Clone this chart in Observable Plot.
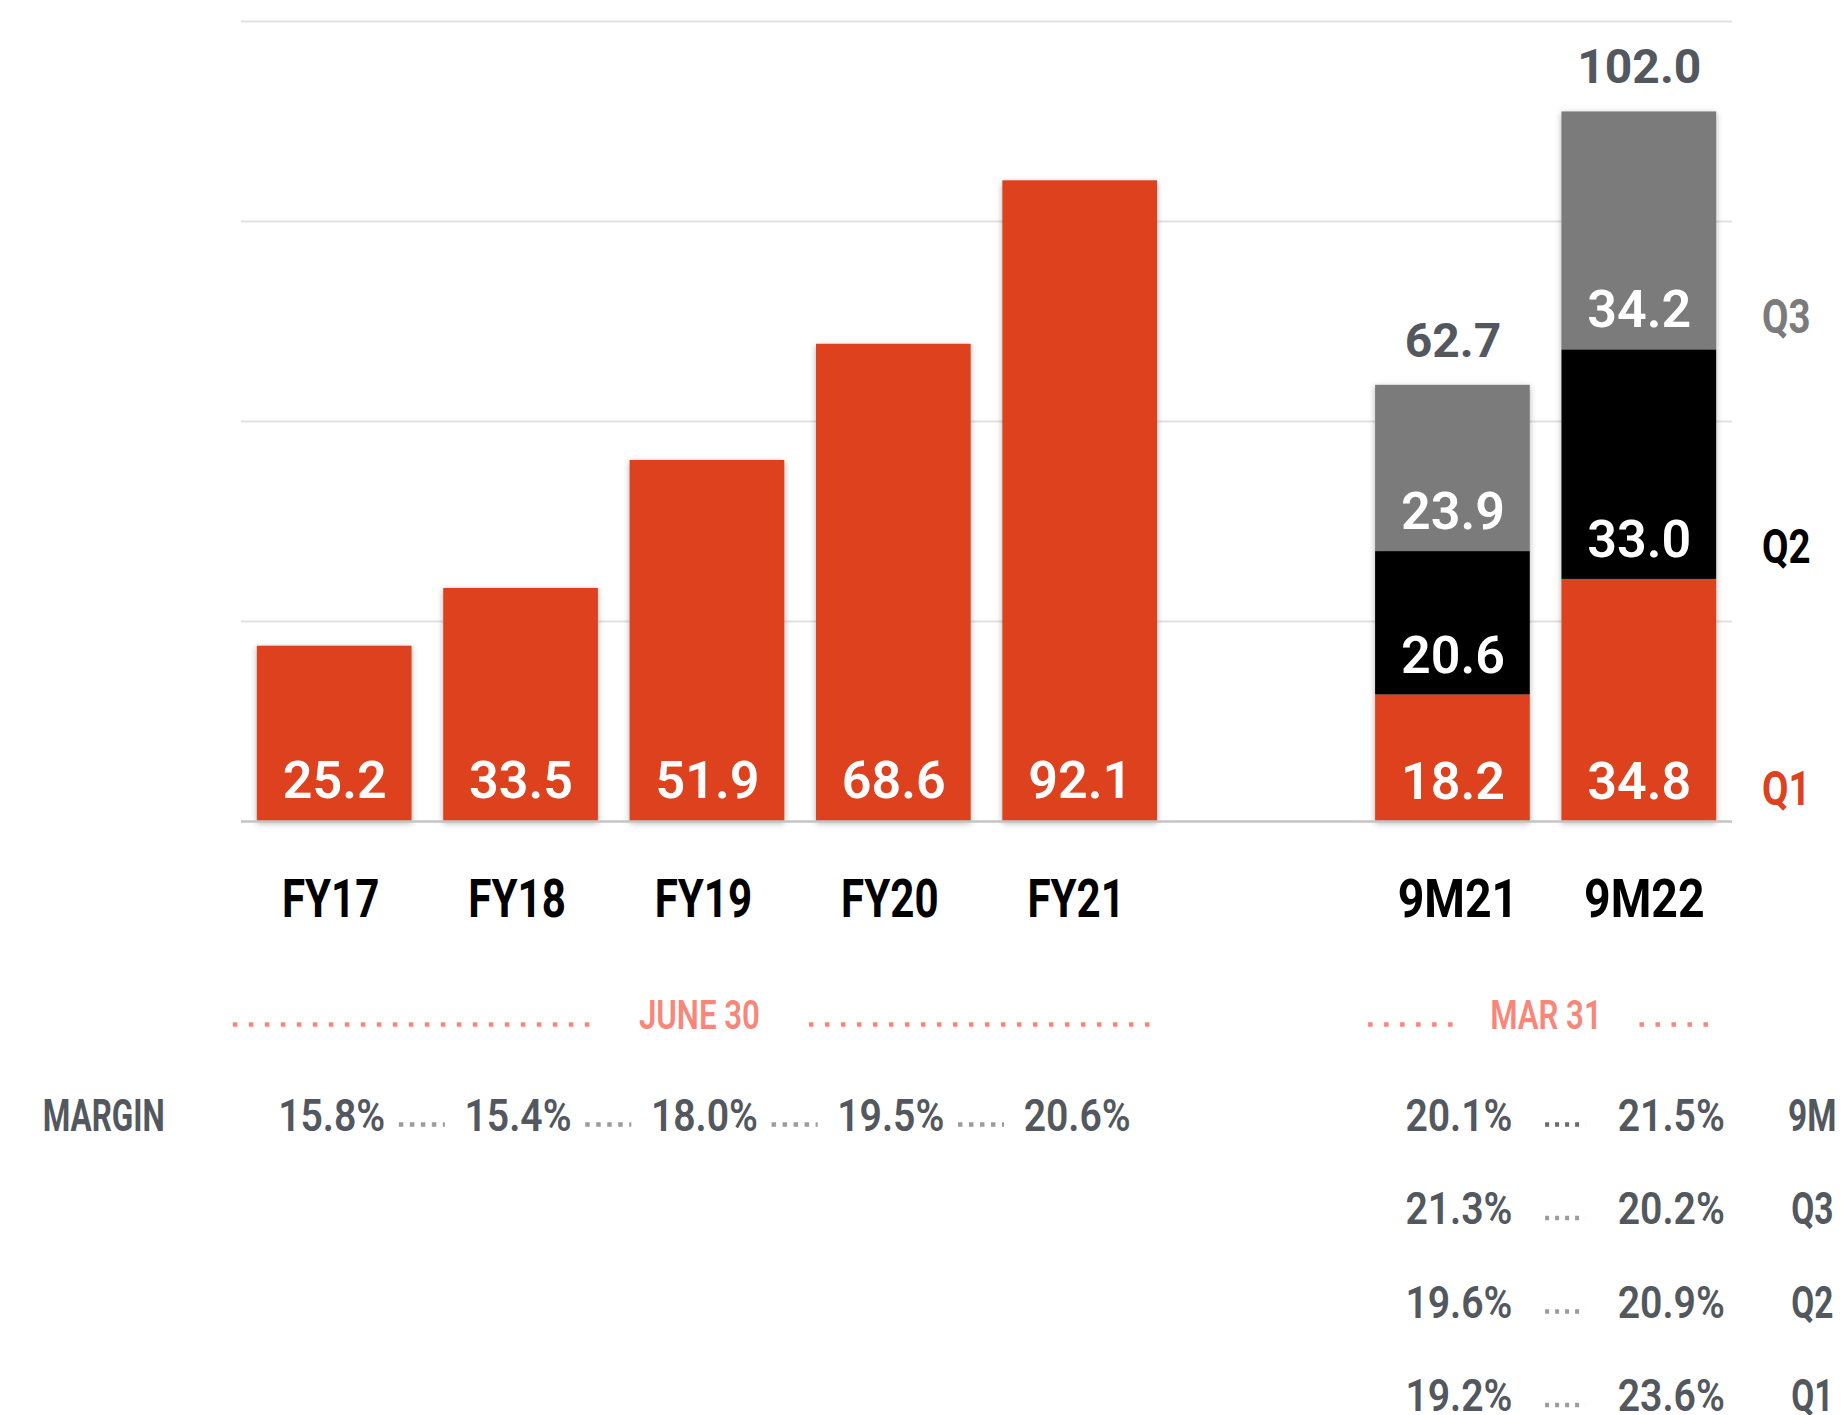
<!DOCTYPE html>
<html>
<head>
<meta charset="utf-8">
<script src="https://cdn.jsdelivr.net/npm/d3@7"></script>
<script src="https://cdn.jsdelivr.net/npm/@observablehq/plot@0.6"></script>
<style>
  html, body { margin: 0; padding: 0; background: #ffffff; }
  #chart { width: 1844px; height: 1415px; overflow: hidden; }
</style>
</head>
<body>
<div id="chart"></div>
<script>
// ---------- data ----------
const fyCategories = ["FY17", "FY18", "FY19", "FY20", "FY21"];
const fyRevenue = [25.2, 33.5, 51.9, 68.6, 92.1];
const fyMargins = [15.8, 15.4, 18.0, 19.5, 20.6];

const ninemCategories = ["9M21", "9M22"];
const quarters = ["Q1", "Q2", "Q3"];
const revenue9M21 = [18.2, 20.6, 23.9];
const revenue9M22 = [34.8, 33.0, 34.2];

const marginRowLabels = ["9M", "Q3", "Q2", "Q1"];
const margins9M21 = [20.1, 21.3, 19.6, 19.2];
const margins9M22 = [21.5, 20.2, 20.9, 23.6];

const gridTicks = [28.75, 57.5, 86.25, 115];
const periodLabels = ["JUNE 30", "MAR 31"];
const rowLabel = "MARGIN";
const gapCategory = " ";

// ---------- styles ----------
const RED = "#DD411E", BLACK = "#000000", GRAY = "#7B7B7B";
const SALMON = "#F8877A", TEXTGRAY = "#53585F", DOTGRAY = "#9C9C9C";
const fmt = d3.format(".1f");

// ---------- derived tables ----------
const xDomain = [...fyCategories, gapCategory, ...ninemCategories];
const fyData = fyCategories.map((c, i) => ({cat: c, value: fyRevenue[i], margin: fyMargins[i]}));
const nineSeries = [revenue9M21, revenue9M22];
const nmData = ninemCategories.flatMap((c, j) => quarters.map((q, k) => ({cat: c, q, value: nineSeries[j][k]})));
const totals = ninemCategories.map((c, j) => ({cat: c, total: d3.sum(nineSeries[j])}));
const fyPairs = fyCategories.slice(0, -1).map((c, i) => ({a: c, b: fyCategories[i + 1]}));
const marginRows = marginRowLabels.map((l, i) => ({label: l, a: margins9M21[i], b: margins9M22[i], i}));

const zero = () => 0;

const rowMarks = marginRows.flatMap(r => {
  const dy = 295 + r.i * 93.5;
  return [
    Plot.text([r], {x: () => "9M21", y: zero, dx: 6, dy, text: d => fmt(d.a) + "%",
      fill: TEXTGRAY, fontSize: 44, fontWeight: 600, lineAnchor: "middle", ariaDescription: "sx 0.89"}),
    Plot.text([r], {x: () => "9M22", y: zero, dx: 32, dy, text: d => fmt(d.b) + "%",
      fill: TEXTGRAY, fontSize: 44, fontWeight: 600, lineAnchor: "middle", ariaDescription: "sx 0.89"}),
    Plot.text([r], {x: () => "9M22", y: zero, dx: 173, dy, text: "label",
      fill: TEXTGRAY, fontSize: 44, fontWeight: 700, lineAnchor: "middle", ariaDescription: "sx 0.76"}),
    Plot.ruleY([r], {x1: () => "9M21", x2: () => "9M22", y: zero, dy: dy + 8,
      insetLeft: 170, insetRight: 131, stroke: r.i === 0 ? "#6A6A6A" : DOTGRAY,
      strokeWidth: 4.5, strokeDasharray: "4 6"})
  ];
});

const plot = Plot.plot({
  width: 1844,
  height: 1415,
  marginLeft: 241,
  marginRight: 112,
  marginTop: 21,
  marginBottom: 594,
  style: {background: "#ffffff", fontFamily: "Roboto, 'Liberation Sans', sans-serif", overflow: "visible"},
  x: {type: "band", domain: xDomain, paddingInner: 0.17, paddingOuter: 0.085, round: false, axis: null},
  y: {domain: [0, 115], axis: null},
  color: {domain: quarters, range: [RED, BLACK, GRAY], legend: false},
  marks: [
    Plot.ruleY(gridTicks, {stroke: "#E2E2E2", strokeWidth: 2}),
    Plot.barY(fyData, {x: "cat", y: "value", fill: RED}),
    Plot.barY(nmData, {x: "cat", y: "value", fill: "q"}),
    Plot.ruleY([0], {stroke: "#C4C4C4", strokeWidth: 2.5}),

    // values inside bars
    Plot.text(fyData, {x: "cat", y: zero, dy: -40, text: d => fmt(d.value),
      fill: "#ffffff", fontSize: 52, fontWeight: 600, lineAnchor: "middle"}),
    Plot.text(nmData, Plot.stackY1({x: "cat", y: "value", text: d => fmt(d.value), dy: -39,
      fill: "#ffffff", fontSize: 52, fontWeight: 600, lineAnchor: "middle"})),

    // totals above stacked bars
    Plot.text(totals, {x: "cat", y: "total", dy: -44, text: d => fmt(d.total),
      fill: TEXTGRAY, fontSize: 48, fontWeight: "bold", lineAnchor: "middle"}),

    // quarter legend beside 9M22
    Plot.text(nmData.filter(d => d.cat === "9M22"), Plot.stackY1({x: "cat", y: "value", text: "q", fill: "q",
      dx: 147, dy: -32, fontSize: 48, fontWeight: "bold", lineAnchor: "middle", ariaDescription: "sx 0.8"})),

    // category labels
    Plot.text(fyCategories, {x: d => d, y: zero, dx: -4, dy: 78,
      fill: BLACK, fontSize: 54, fontWeight: "bold", lineAnchor: "middle", ariaDescription: "sx 0.78"}),
    Plot.text(ninemCategories, {x: d => d, y: zero, dx: 5, dy: 78,
      fill: BLACK, fontSize: 54, fontWeight: "bold", lineAnchor: "middle", ariaDescription: "sx 0.86"}),

    // period headers
    Plot.text([periodLabels[0]], {x: () => "FY19", y: zero, dx: -8, dy: 195,
      fill: SALMON, fontSize: 40, fontWeight: 600, lineAnchor: "middle", ariaDescription: "sx 0.78"}),
    Plot.text([periodLabels[1]], {x: () => "9M21", y: zero, dx: 93, dy: 195,
      fill: SALMON, fontSize: 40, fontWeight: 600, lineAnchor: "middle", ariaDescription: "sx 0.78"}),
    Plot.ruleY([0], {x1: () => "FY17", x2: () => "FY18", dy: 203, insetLeft: -24, insetRight: 8,
      stroke: SALMON, strokeWidth: 4.5, strokeDasharray: "4.5 11.5"}),
    Plot.ruleY([0], {x1: () => "FY20", x2: () => "FY21", dy: 203, insetLeft: -7, insetRight: 7,
      stroke: SALMON, strokeWidth: 4.5, strokeDasharray: "4.5 11.5"}),
    Plot.ruleY([0], {x1: () => "9M21", x2: () => "9M21", dy: 203, insetLeft: -7, insetRight: 74,
      stroke: SALMON, strokeWidth: 4.5, strokeDasharray: "4.5 11.5"}),
    Plot.ruleY([0], {x1: () => "9M22", x2: () => "9M22", dy: 203, insetLeft: 78, insetRight: 2,
      stroke: SALMON, strokeWidth: 4.5, strokeDasharray: "4.5 11.5"}),

    // margin row (fiscal years)
    Plot.text([rowLabel], {x: () => "FY17", y: zero, dx: -292, dy: 295, textAnchor: "start",
      fill: TEXTGRAY, fontSize: 45, fontWeight: "bold", lineAnchor: "middle", ariaDescription: "sx 0.70"}),
    Plot.text(fyData, {x: "cat", y: zero, dx: -3, dy: 295, text: d => fmt(d.margin) + "%",
      fill: TEXTGRAY, fontSize: 44, fontWeight: 600, lineAnchor: "middle", ariaDescription: "sx 0.89"}),
    Plot.ruleY(fyPairs, {x1: "a", x2: "b", y: zero, dy: 303, insetLeft: 142, insetRight: 153,
      stroke: DOTGRAY, strokeWidth: 4.5, strokeDasharray: "4.5 6.5"}),

    // margin table (nine months)
    ...rowMarks
  ]
});

document.getElementById("chart").appendChild(plot);

// horizontal condensing of text groups
plot.querySelectorAll("g[aria-description^='sx']").forEach(g => {
  const f = +g.getAttribute("aria-description").split(" ")[1];
  g.querySelectorAll("text").forEach(el => {
    const t = el.getAttribute("transform");
    if (t) {
      el.setAttribute("transform", t + ` scale(${f},1)`);
    } else {
      const x = el.getAttribute("x") || 0, y = el.getAttribute("y") || 0;
      el.removeAttribute("x"); el.removeAttribute("y");
      el.setAttribute("transform", `translate(${x},${y}) scale(${f},1)`);
    }
  });
});
// subtle drop shadow on bars
plot.querySelectorAll("g[aria-label='bar']").forEach(g => {
  g.style.filter = "drop-shadow(0px 2px 3px rgba(0,0,0,0.30))";
});
</script>
</body>
</html>
